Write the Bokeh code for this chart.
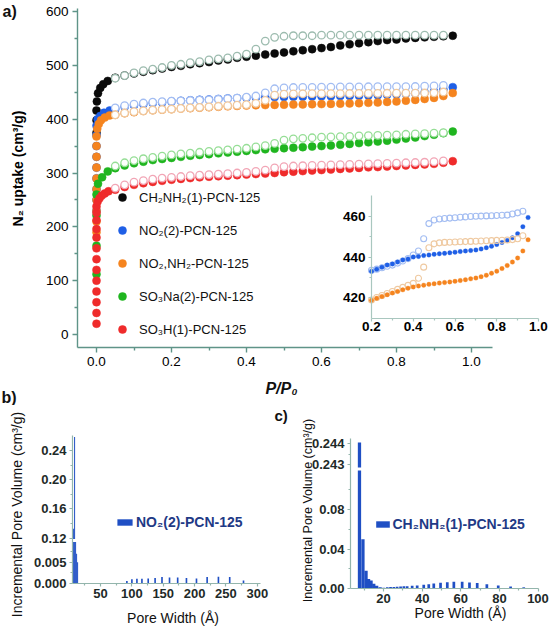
import math
from bokeh.plotting import figure
from bokeh.models import (Range1d, LinearAxis, FixedTicker, Label, Legend,
                          LegendItem, NumeralTickFormatter)
from bokeh.layouts import column, row
from bokeh.embed import file_html
from bokeh.resources import INLINE

FONT = "Liberation Sans"

# ---------------- panel a data (N2 isotherms) ----------------
SERIES_NAMES = ["CH₂NH₂(1)-PCN-125", "NO₂(2)-PCN-125", "NO₂,NH₂-PCN-125",
                "SO₃Na(2)-PCN-125", "SO₃H(1)-PCN-125"]

P_GRID = [0.05, 0.075, 0.10, 0.125, 0.15, 0.175, 0.20, 0.225, 0.25, 0.275,
          0.30, 0.325, 0.35, 0.375, 0.40, 0.425, 0.45, 0.475, 0.50, 0.525,
          0.55, 0.575, 0.60, 0.625, 0.65, 0.675, 0.70, 0.725, 0.75, 0.775,
          0.80, 0.825, 0.85, 0.875, 0.90, 0.925, 0.95]
P_DES = [0.05, 0.075, 0.10, 0.125, 0.15, 0.175, 0.20, 0.225, 0.25, 0.275,
         0.30, 0.325, 0.35, 0.375, 0.40, 0.425, 0.45, 0.475, 0.50, 0.525,
         0.55, 0.575, 0.60, 0.625, 0.65, 0.675, 0.70, 0.725, 0.75, 0.775,
         0.80, 0.825, 0.85, 0.875, 0.90, 0.925]

CH2NH2_LOW_P = [0.0, 0.0, 0.0, 0.001, 0.004, 0.01, 0.018, 0.03]
CH2NH2_LOW_V = [375, 398, 416, 433, 448, 458, 465, 471]
CH2NH2_ADS = [477, 481, 485, 488, 491, 494, 497, 499, 502, 504,
              506, 509, 511, 514, 516, 518, 520, 522, 524, 526,
              528, 530, 532, 534, 537, 539, 541, 543, 545, 547,
              548, 550, 551, 552, 553, 554, 555]
CH2NH2_DES = [476, 481, 486, 490, 493, 496, 500, 502, 505, 507,
              510, 512, 514, 517, 521, 530, 545, 552, 554, 555,
              555, 555, 556, 556, 556, 556, 556, 556, 556, 556,
              556, 556, 556, 556, 556, 556]

NO2_LOW_P = [0.0, 0.0, 0.0, 0.0, 0.0, 0.0, 0.0, 0.0, 0.0, 0.003, 0.01, 0.02, 0.035]
NO2_LOW_V = [230, 250, 270, 290, 310, 330, 350, 370, 388, 400, 406, 412, 416]
NO2_ADS = [419, 423, 426, 428, 430, 431, 433, 434, 435, 436,
           436.5, 437.5, 438.5, 439, 440, 440.3, 440.7, 441, 441.3, 441.6,
           441.8, 442.1, 442.4, 442.7, 443, 443.2, 443.5, 444, 444.6, 445.3,
           446.2, 447.2, 448.2, 449.5, 451.5, 455, 459.5]
NO2_DES = [421, 425, 428, 430, 431.5, 432.5, 433.4, 434, 434.7, 435.4,
           436, 437, 438, 439.2, 441, 443, 449, 456.5, 458.3, 458.8,
           459, 459.2, 459.4, 459.6, 459.8, 460, 460.1, 460.2, 460.3, 460.4,
           460.5, 460.6, 460.7, 461.2, 461.8, 462.6]

NO2NH2_LOW_P = [0.0, 0.0, 0.0, 0.0, 0.0, 0.0, 0.0, 0.0, 0.0, 0.0,
                0.002, 0.006, 0.012, 0.022, 0.035]
NO2NH2_LOW_V = [190, 210, 230, 250, 270, 290, 310, 330, 350, 368,
                382, 391, 398, 403, 407]
NO2NH2_ADS = [408, 411, 413, 415, 416.5, 417.7, 418.6, 419.6, 420.5, 421.4,
              422.2, 423, 423.8, 424.6, 425.2, 425.7, 426.1, 426.5, 426.8, 427.1,
              427.4, 427.7, 428, 428.4, 428.8, 429.2, 429.6, 430.3, 431, 432,
              433, 434.3, 435.8, 437.5, 439.5, 443, 448.5]
NO2NH2_DES = [408, 411.5, 414, 415.5, 417, 418, 418.8, 420, 421, 422,
              423, 424, 425, 426, 427, 429.5, 435, 444.6, 446.5, 447,
              447.2, 447.3, 447.4, 447.5, 447.6, 447.7, 447.8, 447.9, 448, 448.1,
              448.2, 448.3, 448.4, 448.6, 449, 450.5]

SO3NA_LOW_P = [0.0, 0.0, 0.0, 0.0, 0.004, 0.015, 0.03]
SO3NA_LOW_V = [112, 165, 221, 260, 280, 292, 303]
SO3NA_ADS = [309, 314, 318, 321, 324, 326, 328, 330, 332, 333.5,
             335, 336.5, 338, 339.5, 341, 342.5, 344, 345, 346, 347,
             348, 349, 350, 351, 352.5, 354, 355.5, 357, 358.5, 360,
             362, 364, 366, 368.5, 371, 374, 377]
SO3NA_DES = [313, 319, 323, 326.5, 329, 331.5, 333.5, 335.5, 337, 338.5,
             340, 341.5, 343, 344.5, 346, 348.5, 351, 355, 361, 363.5,
             364.5, 365.5, 366.5, 367, 367.5, 368, 369, 369.5, 370, 370.5,
             371, 372, 372.5, 373, 374, 375]

SO3H_LOW_P = [0.0, 0.0, 0.0, 0.0, 0.0, 0.0, 0.0, 0.0, 0.0, 0.0, 0.0, 0.0, 0.0,
              0.003, 0.008, 0.014, 0.022, 0.032]
SO3H_LOW_V = [20, 40, 60, 80, 100, 120, 140, 160, 180, 196, 212, 226, 238,
              247, 253, 258, 262, 266]
SO3H_ADS = [269, 274, 278, 281, 283.5, 285.5, 287.5, 289, 290.5, 292,
            293, 294, 295, 296, 297, 298, 299, 300, 301.5, 302.5,
            303.5, 304.5, 305.5, 306.5, 307.5, 308.5, 309.5, 310.5, 311, 312,
            313, 314, 315, 316, 317, 319, 322]
SO3H_DES = [272, 278, 283, 286, 288.5, 290.5, 292, 293.5, 295, 296,
            297, 298, 299, 300, 301, 303, 305.5, 309.5, 312, 313,
            313.5, 314, 314.5, 315, 315.5, 316, 316.5, 317, 317.5, 318,
            318.5, 319, 319.5, 320, 321, 322.5]

LOW_P = [CH2NH2_LOW_P, NO2_LOW_P, NO2NH2_LOW_P, SO3NA_LOW_P, SO3H_LOW_P]
LOW_V = [CH2NH2_LOW_V, NO2_LOW_V, NO2NH2_LOW_V, SO3NA_LOW_V, SO3H_LOW_V]
ADS = [CH2NH2_ADS, NO2_ADS, NO2NH2_ADS, SO3NA_ADS, SO3H_ADS]
DES = [CH2NH2_DES, NO2_DES, NO2NH2_DES, SO3NA_DES, SO3H_DES]

X_TICKS_A = [0.0, 0.2, 0.4, 0.6, 0.8, 1.0]
X_MINOR_A = [0.1, 0.3, 0.5, 0.7, 0.9]
Y_TICKS_A = [0, 100, 200, 300, 400, 500, 600]
Y_MINOR_A = [50, 150, 250, 350, 450, 550]
X_TICKS_IN = [0.2, 0.4, 0.6, 0.8, 1.0]
X_MINOR_IN = [0.3, 0.5, 0.7, 0.9]
Y_TICKS_IN = [420, 440, 460]
Y_MINOR_IN = [430, 450]

# ---------------- panel b data (pore size distribution) ----------------
PW_B = [7.0, 8.6, 10.2, 11.8, 13.4, 92, 100, 108, 116, 126, 137, 148, 160,
        173, 187, 203, 220, 238, 256, 278]
PV_B = [0.133, 0.2585, 0.06, 0.007, 0.005, 0.0006, 0.0010, 0.0011, 0.0011,
        0.0012, 0.0013, 0.0015, 0.0014, 0.0014, 0.0013, 0.0012, 0.0015,
        0.0016, 0.0015, 0.0007]
B_YTICKS = [0.0, 0.005, 0.12, 0.16, 0.20, 0.24]
B_YTICK_LABELS = ["0.000", "0.005", "0.12", "0.16", "0.20", "0.24"]
B_YMINOR = [0.0025, 0.0075, 0.14, 0.18, 0.22]
B_XTICKS = [50, 100, 150, 200, 250, 300]
B_XMINOR = [25, 75, 125, 175, 225, 275]

# ---------------- panel c data ----------------
PW_C = [7.5, 9.3, 10.9, 12.2, 13.5, 14.9, 16.4, 18.2, 20.0, 21.9, 23.6, 25.3,
        27.0, 28.8, 30.5, 32.2, 34.8, 37.4, 40.8, 43.4, 46.0, 49.5, 53.0,
        56.4, 60.7, 64.5, 68.5, 73.5, 79.4, 85.8, 92.6]
PV_C = [0.24405, 0.050, 0.018, 0.0097, 0.008, 0.0047, 0.0027, 0.0012, 0.0008,
        0.0012, 0.0014, 0.0016, 0.0018, 0.0020, 0.0022, 0.0024, 0.0028, 0.0031,
        0.0037, 0.0043, 0.0050, 0.0058, 0.0064, 0.0068, 0.0068, 0.0062, 0.0055,
        0.0042, 0.0030, 0.0020, 0.0012]
C_YTICKS = [0.0, 0.04, 0.08, 0.243, 0.244]
C_YTICK_LABELS = ["0.00", "0.04", "0.08", "0.243", "0.244"]
C_YMINOR = [0.02, 0.06, 0.10, 0.2435]
C_XTICKS = [20, 40, 60, 80, 100]
C_XMINOR = [10, 30, 50, 70, 90]

# ---------------- styles ----------------
FILLED = ["#0a0a0a", "#1f5fe6", "#f5841f", "#1fb51f", "#ef2b2b"]
OPEN = ["#9dbcaf", "#a3bdf2", "#efc9a0", "#96de96", "#f2a6b6"]
AX_A = "#5f9488"
AX_IN = "#a9c7bf"
AX_BC = "#93b5ac"
BAR = "#1f4fc4"
TICK_BC = "#1e2a28"


def style_axis(ax, color, size, style="normal", tick_out=5, minor_out=3,
               standoff=3, lw=1.4, text_color="black"):
    ax.axis_line_color = color
    ax.axis_line_width = lw
    ax.major_tick_line_color = color
    ax.minor_tick_line_color = color
    ax.major_tick_line_width = lw
    ax.minor_tick_line_width = lw
    ax.major_tick_in = 0
    ax.major_tick_out = tick_out
    ax.minor_tick_in = 0
    ax.minor_tick_out = minor_out
    ax.major_label_text_font = FONT
    ax.major_label_text_font_size = size
    ax.major_label_text_font_style = style
    ax.major_label_text_color = text_color
    ax.major_label_standoff = standoff


def full_fig(w, h, xr, yr):
    # the plot frame covers the whole canvas; axes are placed at fixed locations
    f = figure(width=w, height=h, x_range=xr, y_range=yr,
               output_backend="svg", toolbar_location=None,
               x_axis_location=None, y_axis_location=None,
               min_border_left=0, min_border_right=0,
               min_border_top=0, min_border_bottom=0)
    f.outline_line_color = None
    f.xgrid.visible = False
    f.ygrid.visible = False
    return f


def add_label(f, x, y, txt, size, style="normal", align="center", ang=0.0,
              color="#111111"):
    f.add_layout(Label(x=x, y=y, text=txt, text_font=FONT, text_font_size=size,
                       text_font_style=style, text_align=align,
                       text_baseline="middle", angle=ang, text_color=color))


# ================= panel a =================
AW, AH = 550, 405
KX = 375.0            # px per unit P/P0
X0_PX = 96.0          # px of P/P0 = 0
KY = 323.0 / 600.0    # px per cm3/g
Y0_PX = 334.0         # px of 0 cm3/g


def ax_(px):
    return (px - X0_PX) / KX


def ay_(py):
    return (Y0_PX - py) / KY


pa = full_fig(AW, AH, Range1d(ax_(0), ax_(AW)), Range1d(ay_(AH), ay_(0)))

# inset: 0.2 at px 371, 1.0 at px 538; 460 at px 216, 420 at px 297
KXI = (538 - 371) / 0.8
KYI = (297 - 216) / 40.0


def ix_(px):
    return 0.2 + (px - 371) / KXI


def iy_(py):
    return 420 + (297 - py) / KYI


pa.extra_x_ranges = {"ix": Range1d(ix_(0), ix_(AW))}
pa.extra_y_ranges = {"iy": Range1d(iy_(AH), iy_(0))}
IN_YMIN = iy_(318)
IN_YMAX = iy_(195)

ads_renderers = []
for i in range(5):
    ra = pa.scatter(LOW_P[i] + P_GRID, LOW_V[i] + ADS[i], marker="circle", size=8,
                    fill_color=FILLED[i], line_color=FILLED[i], line_width=0.5)
    pa.scatter(P_DES, DES[i], marker="circle", size=7.5, fill_color="white",
               line_color=OPEN[i], line_width=1.3)
    ads_renderers.append(ra)

# inset: same isotherms, zoomed
for i in range(5):
    keep_d = [(p, v) for p, v in zip(P_DES, DES[i]) if p >= 0.2 and IN_YMIN <= v <= IN_YMAX]
    keep_a = [(p, v) for p, v in zip(P_GRID, ADS[i]) if p >= 0.2 and IN_YMIN <= v <= IN_YMAX]
    if keep_d:
        pa.scatter([k[0] for k in keep_d], [k[1] for k in keep_d], marker="circle",
                   size=6, fill_color=None, line_color=OPEN[i], line_width=1.1,
                   x_range_name="ix", y_range_name="iy")
    if keep_a:
        pa.scatter([k[0] for k in keep_a], [k[1] for k in keep_a], marker="circle",
                   size=4.5, fill_color=FILLED[i], line_color=FILLED[i],
                   line_width=0.3, x_range_name="ix", y_range_name="iy")

xa = LinearAxis(fixed_location=ay_(347), bounds=(ax_(77), ax_(492)),
                ticker=FixedTicker(ticks=X_TICKS_A, minor_ticks=X_MINOR_A),
                formatter=NumeralTickFormatter(format="0.0"))
ya = LinearAxis(fixed_location=ax_(77), bounds=(ay_(347), ay_(8)),
                ticker=FixedTicker(ticks=Y_TICKS_A, minor_ticks=Y_MINOR_A))
style_axis(xa, AX_A, "13.5px", tick_out=5, minor_out=3, standoff=4)
style_axis(ya, AX_A, "13.5px", tick_out=5, minor_out=3, standoff=4)
pa.add_layout(xa, "below")
pa.add_layout(ya, "left")

xin = LinearAxis(x_range_name="ix", y_range_name="iy", fixed_location=IN_YMIN,
                 bounds=(0.2, 1.0),
                 ticker=FixedTicker(ticks=X_TICKS_IN, minor_ticks=X_MINOR_IN),
                 formatter=NumeralTickFormatter(format="0.0"))
yin = LinearAxis(x_range_name="ix", y_range_name="iy", fixed_location=0.2,
                 bounds=(IN_YMIN, IN_YMAX),
                 ticker=FixedTicker(ticks=Y_TICKS_IN, minor_ticks=Y_MINOR_IN))
style_axis(xin, AX_IN, "13.5px", "bold", tick_out=3, minor_out=2, standoff=0, lw=1.2)
style_axis(yin, AX_IN, "13.5px", "bold", tick_out=3, minor_out=2, standoff=3, lw=1.2)
pa.add_layout(xin, "below")
pa.add_layout(yin, "left")

leg_a = Legend(items=[LegendItem(label=SERIES_NAMES[i], renderers=[ads_renderers[i]])
                      for i in range(5)],
               location=(112, AH - 339), orientation="vertical", glyph_width=20,
               glyph_height=20, spacing=13, padding=0, margin=0, label_standoff=7,
               label_text_font=FONT, label_text_font_size="13px",
               label_text_color="#111111", border_line_color=None,
               background_fill_alpha=0)
pa.add_layout(leg_a)

add_label(pa, ax_(2), ay_(11), "a)", "16px", "bold", "left")
add_label(pa, ax_(1), ay_(396.5), "b)", "16px", "bold", "left")
add_label(pa, ax_(281), ay_(388), "P/P₀", "16px", "bold italic")
add_label(pa, ax_(17), ay_(168), "N₂ uptake (cm³/g)", "14px", "bold", "center",
          math.pi / 2, "black")


# ================= broken-axis helpers =================
def seg_map(v, seg):
    lo_top_v, lo_k, up_bot_v, up_bot_d, up_k = seg
    if v <= lo_top_v:
        return v * lo_k
    return up_bot_d + (v - up_bot_v) * up_k


def bar_parts(pw, pv, seg):
    lo_top_v, lo_k, up_bot_v, up_bot_d, up_k = seg
    low_top = [min(v, lo_top_v) * lo_k for v in pv]
    ux = [x for x, v in zip(pw, pv) if v > up_bot_v]
    utop = [up_bot_d + (v - up_bot_v) * up_k for v in pv if v > up_bot_v]
    return low_top, ux, utop


# ================= panel b =================
BW, BH, BTOP = 270, 226, 405
BX0, BKX = 68.7, 0.627      # px of 0 A, px per A
BBASE = 583                 # page px of zero volume


def bx_(px):
    return (px - BX0) / BKX


def by_(py):
    return BBASE - py


SEG_B = (0.0097, 4267.0, 0.1189, 44.5, 730.0)
pb = full_fig(BW, BH, Range1d(bx_(0), bx_(BW)), Range1d(by_(BTOP + BH), by_(BTOP)))
wb = [1.6 if x < 20 else 2.6 for x in PW_B]
lowb, uxb, utb = bar_parts(PW_B, PV_B, SEG_B)
rb = pb.vbar(x=PW_B, width=wb, bottom=0, top=lowb, fill_color=BAR, line_color=None)
pb.vbar(x=uxb, width=1.6, bottom=SEG_B[3], top=utb, fill_color=BAR, line_color=None)

btk = [round(seg_map(v, SEG_B), 3) for v in B_YTICKS]
bya = LinearAxis(fixed_location=bx_(72), bounds=(0, by_(435)),
                 ticker=FixedTicker(ticks=btk, minor_ticks=[round(seg_map(v, SEG_B), 3)
                                                            for v in B_YMINOR]))
bya.major_label_overrides = {t: s for t, s in zip(btk, B_YTICK_LABELS)}
bxa = LinearAxis(fixed_location=0, bounds=(bx_(72), bx_(260)),
                 ticker=FixedTicker(ticks=B_XTICKS, minor_ticks=B_XMINOR))
style_axis(bya, AX_BC, "13px", "bold", tick_out=3, minor_out=2, standoff=3,
           lw=1.2, text_color=TICK_BC)
style_axis(bxa, AX_BC, "13px", "bold", tick_out=3, minor_out=2, standoff=2,
           lw=1.2, text_color=TICK_BC)
pb.add_layout(bya, "left")
pb.add_layout(bxa, "below")

leg_b = Legend(items=[LegendItem(label="NO₂(2)-PCN-125", renderers=[rb])],
               location=(115, 101), glyph_width=19, glyph_height=8, padding=0,
               margin=0, label_standoff=2, label_text_font=FONT,
               label_text_font_size="14px", label_text_font_style="bold",
               label_text_color="#1f3a86", border_line_color=None,
               background_fill_alpha=0)
pb.add_layout(leg_b)
add_label(pb, bx_(16), by_(514), "Incremental Pore Volume (cm³/g)", "14px",
          "normal", "center", math.pi / 2)
add_label(pb, bx_(172.5), by_(617), "Pore Width (Å)", "14px")

# ================= panel c =================
CW, CH, CLEFT = 280, 226, 270
CX0, CKX = 344.5, 1.93
CBASE = 588


def cx_(px):
    return (px - CX0) / CKX


def cy_(py):
    return CBASE - py


SEG_C = (0.1195, 987.5, 0.24286, 121.0, 21000.0)
pc = full_fig(CW, CH, Range1d(cx_(CLEFT), cx_(CLEFT + CW)),
              Range1d(cy_(BTOP + CH), cy_(BTOP)))
wc = [1.7 if x < 20 else 1.4 for x in PW_C]
lowc, uxc, utc = bar_parts(PW_C, PV_C, SEG_C)
rc = pc.vbar(x=PW_C, width=wc, bottom=0, top=lowc, fill_color=BAR, line_color=None)
pc.vbar(x=uxc, width=1.7, bottom=SEG_C[3], top=utc, fill_color=BAR, line_color=None)

ctk = [round(seg_map(v, SEG_C), 3) for v in C_YTICKS]
cya = LinearAxis(fixed_location=cx_(350), bounds=(0, cy_(438)),
                 ticker=FixedTicker(ticks=ctk, minor_ticks=[round(seg_map(v, SEG_C), 3)
                                                            for v in C_YMINOR]))
cya.major_label_overrides = {t: s for t, s in zip(ctk, C_YTICK_LABELS)}
cxa = LinearAxis(fixed_location=0, bounds=(cx_(350), 100.5),
                 ticker=FixedTicker(ticks=C_XTICKS, minor_ticks=C_XMINOR))
style_axis(cya, AX_BC, "13px", "bold", tick_out=3, minor_out=2, standoff=3,
           lw=1.2, text_color=TICK_BC)
style_axis(cxa, AX_BC, "13px", "bold", tick_out=3, minor_out=2, standoff=2,
           lw=1.2, text_color=TICK_BC)
pc.add_layout(cya, "left")
pc.add_layout(cxa, "below")

leg_c = Legend(items=[LegendItem(label="CH₂NH₂(1)-PCN-125", renderers=[rc])],
               location=(103.5, 99), glyph_width=17, glyph_height=8, padding=0,
               margin=0, label_standoff=2, label_text_font=FONT,
               label_text_font_size="14px", label_text_font_style="bold",
               label_text_color="#1f3a86", border_line_color=None,
               background_fill_alpha=0)
pc.add_layout(leg_c)
add_label(pc, cx_(274), cy_(415), "c)", "15px", "bold", "left")
add_label(pc, cx_(307.5), cy_(510), "Incremental Pore Volume (cm³/g)", "12.5px",
          "normal", "center", math.pi / 2)
add_label(pc, cx_(460), cy_(612), "Pore Width (Å)", "14px")

layout = column(pa, row(pb, pc))
open("out.html", "w").write(file_html(layout, INLINE))
